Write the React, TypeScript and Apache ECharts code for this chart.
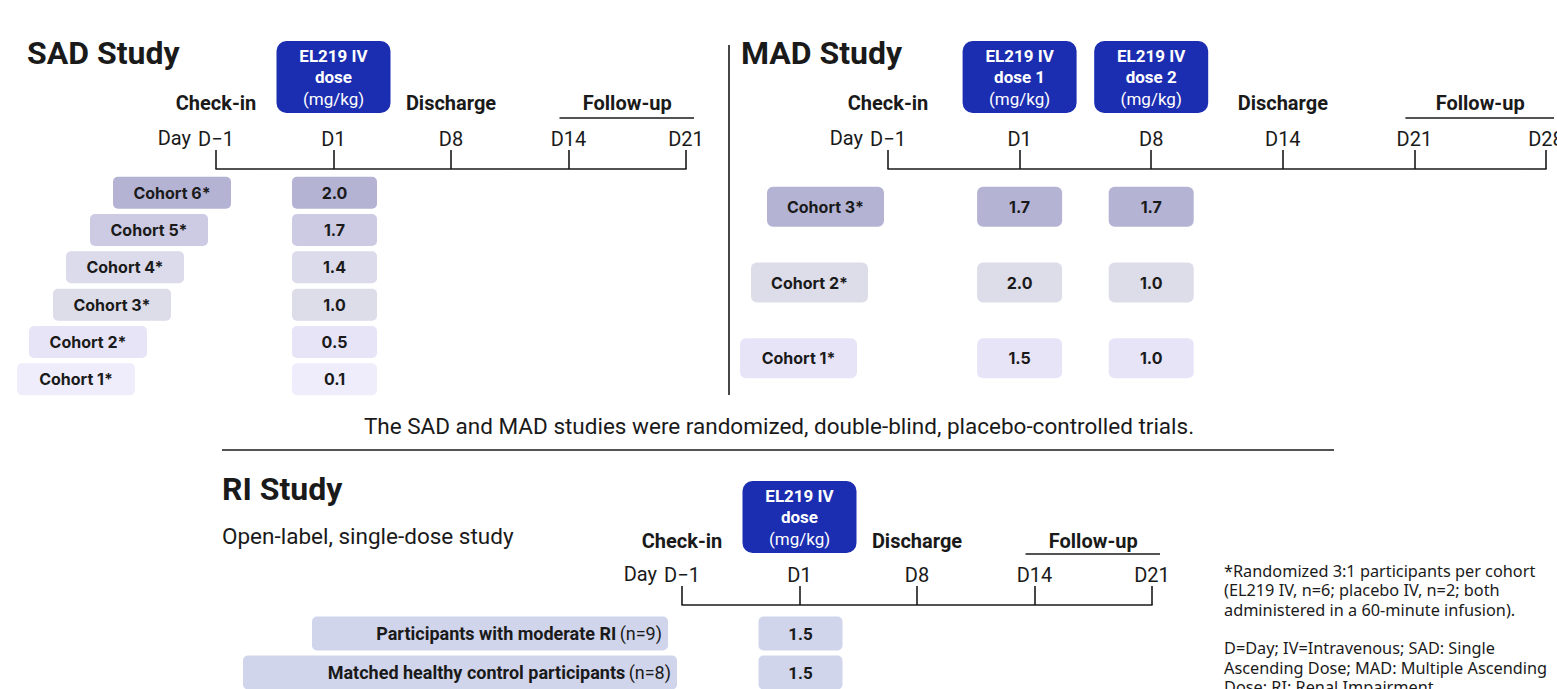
import React, { useEffect, useRef } from 'react';
import * as echarts from 'echarts';

// ---------- data ----------
const sadDays = ['D−1', 'D1', 'D8', 'D14', 'D21'];
const madDays = ['D−1', 'D1', 'D8', 'D14', 'D21', 'D28'];
const riDays = ['D−1', 'D1', 'D8', 'D14', 'D21'];

const sadCohorts = ['Cohort 6*', 'Cohort 5*', 'Cohort 4*', 'Cohort 3*', 'Cohort 2*', 'Cohort 1*'];
const sadDoses = [2.0, 1.7, 1.4, 1.0, 0.5, 0.1];

const madCohorts = ['Cohort 3*', 'Cohort 2*', 'Cohort 1*'];
const madDose1 = [1.7, 2.0, 1.5];
const madDose2 = [1.7, 1.0, 1.0];

const riGroups = ['Participants with moderate RI', 'Matched healthy control participants'];
const riN = [9, 8];
const riDoses = [1.5, 1.5];

const sadDoseDay = 'D1';
const madDoseDays = ['D1', 'D8'];
const riDoseDay = 'D1';

const phaseLabels = ['Check-in', 'Discharge', 'Follow-up'];
const sadPhaseDays = ['D−1', 'D8', 'D14', 'D21'];
const madPhaseDays = ['D−1', 'D14', 'D21', 'D28'];
const riPhaseDays = ['D−1', 'D8', 'D14', 'D21'];

const sadHeaders = [['EL219 IV', 'dose', '(mg/kg)']];
const madHeaders = [['EL219 IV', 'dose 1', '(mg/kg)'], ['EL219 IV', 'dose 2', '(mg/kg)']];
const riHeaders = [['EL219 IV', 'dose', '(mg/kg)']];

const footnoteLines = [
  '*Randomized 3:1 participants per cohort',
  '(EL219 IV, n=6; placebo IV, n=2; both',
  'administered in a 60-minute infusion).',
  '',
  'D=Day; IV=Intravenous; SAD: Single',
  'Ascending Dose; MAD: Multiple Ascending',
  'Dose; RI: Renal Impairment',
];

// ---------- styles / layout ----------
const INK = '#1a1a1a';
const BLUE = '#1b2db0';
const HEAD_FONT = 'Roboto, "Noto Sans", sans-serif';
const BOX_FONT = 'Inter, "Noto Sans", sans-serif';
const sadColors = ['#b4b3d4', '#cccbe3', '#dcdbeb', '#dddce9', '#e8e4f8', '#efedfb'];
const madColors = ['#b4b3d4', '#dddce9', '#e8e4f8'];
const riColor = '#d0d5eb';
const sadRightOffsets = [15, -8, -32, -45, -69, -81];
const madRightOffsets = [-4, -20, -31];
const riRightOffsets = [-14, -5];
const riWidths = [356, 434];

function axisPair(gi: number, days: string[], rows: string[], offset: number) {
  const x = {
    gridIndex: gi,
    type: 'category',
    data: days,
    position: 'top',
    offset,
    boundaryGap: false,
    axisLine: { show: true, lineStyle: { color: INK, width: 1.6 } },
    axisTick: { show: true, length: 19, interval: 0, lineStyle: { color: INK, width: 1.6 } },
    axisLabel: { interval: 0, margin: 20, fontSize: 20, fontFamily: HEAD_FONT, color: INK },
    splitLine: { show: false },
  };
  const y = { gridIndex: gi, type: 'category', data: rows, inverse: true, show: false };
  return { x, y };
}

function txt(x: number, y: number, text: string, font: string, align = 'center', fill = INK) {
  return {
    type: 'text',
    x,
    y,
    style: {
      text,
      font,
      fill,
      align,
      textAlign: align,
      verticalAlign: 'middle',
      textVerticalAlign: 'middle',
    },
  };
}

function boxSeries(
  gi: number,
  data: any[],
  draw: (i: number, p: number[], api: any) => any[]
) {
  return {
    type: 'custom',
    xAxisIndex: gi,
    yAxisIndex: gi,
    clip: false,
    silent: true,
    data,
    renderItem: (params: any, api: any) => {
      const p = api.coord([api.value(0), api.value(1)]);
      return { type: 'group', children: draw(params.dataIndex, p, api) };
    },
  };
}

function annotationSeries(
  gi: number,
  days: string[],
  row0: string,
  phaseDays: string[],
  headerDays: string[],
  headers: string[][],
  axisOffset: number,
  headerTop: number,
  phaseY: number
) {
  return {
    type: 'custom',
    xAxisIndex: gi,
    yAxisIndex: gi,
    clip: false,
    silent: true,
    data: [[days[0], row0]],
    renderItem: (params: any, api: any) => {
      const axisY = params.coordSys.y - axisOffset;
      const xOf = (d: string) => api.coord([days.indexOf(d), 0])[0];
      const kids: any[] = [];
      kids.push(txt(xOf(days[0]) - 25, axisY - 31, 'Day', `20px ${HEAD_FONT}`, 'right'));
      headerDays.forEach((d, k) => {
        const cx = xOf(d);
        const top = axisY - headerTop;
        kids.push({
          type: 'rect',
          shape: { x: cx - 57, y: top, width: 114, height: 72, r: 10 },
          style: { fill: BLUE },
        });
        kids.push(txt(cx, top + 15, headers[k][0], `bold 17px ${HEAD_FONT}`, 'center', '#ffffff'));
        kids.push(txt(cx, top + 36, headers[k][1], `bold 17px ${HEAD_FONT}`, 'center', '#ffffff'));
        kids.push(txt(cx, top + 58, headers[k][2], `17px ${HEAD_FONT}`, 'center', '#ffffff'));
      });
      const py = axisY - phaseY;
      kids.push(txt(xOf(phaseDays[0]), py, phaseLabels[0], `bold 20px ${HEAD_FONT}`));
      kids.push(txt(xOf(phaseDays[1]), py, phaseLabels[1], `bold 20px ${HEAD_FONT}`));
      const f1 = xOf(phaseDays[2]);
      const f2 = xOf(phaseDays[3]);
      kids.push(txt((f1 + f2) / 2, py, phaseLabels[2], `bold 20px ${HEAD_FONT}`));
      kids.push({
        type: 'line',
        shape: { x1: f1 - 9, y1: axisY - 51, x2: f2 + 8, y2: axisY - 51 },
        style: { stroke: INK, lineWidth: 1.6 },
      });
      return { type: 'group', children: kids };
    },
  };
}

export default function App() {
  const ref = useRef<HTMLDivElement>(null);

  useEffect(() => {
    document.body.style.margin = '0';
    if (!ref.current) return;
    const chart = echarts.init(ref.current, undefined, { renderer: 'svg' });

    const sad = axisPair(0, sadDays, sadCohorts, 5);
    const mad = axisPair(1, madDays, madCohorts, 0);
    const ri = axisPair(2, riDays, riGroups, 9);

    const series: any[] = [];

    series.push(
      boxSeries(0, sadCohorts.map((c) => [sadDays[0], c]), (i, p) => {
        const right = p[0] + sadRightOffsets[i];
        const w = 118;
        const h = 32;
        return [
          { type: 'rect', shape: { x: right - w, y: p[1] - h / 2, width: w, height: h, r: 5 }, style: { fill: sadColors[i] } },
          txt(right - w / 2, p[1], sadCohorts[i], `bold 16px ${BOX_FONT}`),
        ];
      })
    );
    series.push(
      boxSeries(0, sadDoses.map((d, i) => [sadDoseDay, sadCohorts[i], d]), (i, p, api) => {
        const w = 85;
        const h = 32;
        return [
          { type: 'rect', shape: { x: p[0] - w / 2 + 1, y: p[1] - h / 2, width: w, height: h, r: 5 }, style: { fill: sadColors[i] } },
          txt(p[0] + 1, p[1], Number(api.value(2)).toFixed(1), `bold 16px ${BOX_FONT}`),
        ];
      })
    );
    series.push(annotationSeries(0, sadDays, sadCohorts[0], sadPhaseDays, [sadDoseDay], sadHeaders, 5, 128, 66));

    series.push(
      boxSeries(1, madCohorts.map((c) => [madDays[0], c]), (i, p) => {
        const right = p[0] + madRightOffsets[i];
        const w = 117;
        const h = 40;
        return [
          { type: 'rect', shape: { x: right - w, y: p[1] - h / 2, width: w, height: h, r: 6 }, style: { fill: madColors[i] } },
          txt(right - w / 2, p[1], madCohorts[i], `bold 16px ${BOX_FONT}`),
        ];
      })
    );
    [madDose1, madDose2].forEach((arr, k) => {
      series.push(
        boxSeries(1, arr.map((d, i) => [madDoseDays[k], madCohorts[i], d]), (i, p, api) => {
          const w = 85;
          const h = 40;
          return [
            { type: 'rect', shape: { x: p[0] - w / 2, y: p[1] - h / 2, width: w, height: h, r: 6 }, style: { fill: madColors[i] } },
            txt(p[0], p[1], Number(api.value(2)).toFixed(1), `bold 16px ${BOX_FONT}`),
          ];
        })
      );
    });
    series.push(annotationSeries(1, madDays, madCohorts[0], madPhaseDays, madDoseDays, madHeaders, 0, 128, 66));

    series.push(
      boxSeries(2, riGroups.map((g) => [riDays[0], g]), (i, p) => {
        const right = p[0] + riRightOffsets[i];
        const w = riWidths[i];
        const h = 34;
        return [
          { type: 'rect', shape: { x: right - w, y: p[1] - h / 2, width: w, height: h, r: 5 }, style: { fill: riColor } },
          {
            type: 'text',
            x: right - 6,
            y: p[1],
            style: {
              text: `{b|${riGroups[i]}} {r|(n=${riN[i]})}`,
              align: 'right',
              textAlign: 'right',
              verticalAlign: 'middle',
              textVerticalAlign: 'middle',
              fill: INK,
              rich: {
                b: { font: `bold 18px ${HEAD_FONT}`, fill: INK, color: INK },
                r: { font: `18px ${HEAD_FONT}`, fill: INK, color: INK },
              },
            },
          },
        ];
      })
    );
    series.push(
      boxSeries(2, riDoses.map((d, i) => [riDoseDay, riGroups[i], d]), (i, p, api) => {
        const w = 84;
        const h = 34;
        return [
          { type: 'rect', shape: { x: p[0] - w / 2 + 1, y: p[1] - h / 2, width: w, height: h, r: 5 }, style: { fill: riColor } },
          txt(p[0] + 1, p[1], Number(api.value(2)).toFixed(1), `bold 17px ${HEAD_FONT}`),
        ];
      })
    );
    series.push(annotationSeries(2, riDays, riGroups[0], riPhaseDays, [riDoseDay], riHeaders, 9, 124, 64));

    const graphic: any[] = [
      txt(27, 53, 'SAD Study', `bold 32px ${HEAD_FONT}`, 'left'),
      txt(741, 53, 'MAD Study', `bold 32px ${HEAD_FONT}`, 'left'),
      txt(222, 489, 'RI Study', `bold 32px ${HEAD_FONT}`, 'left'),
      txt(222, 536, 'Open-label, single-dose study', `22.5px ${HEAD_FONT}`, 'left'),
      txt(779, 426, 'The SAD and MAD studies were randomized, double-blind, placebo-controlled trials.', `22.5px ${HEAD_FONT}`, 'center'),
      { type: 'line', shape: { x1: 729, y1: 45, x2: 729, y2: 395 }, style: { stroke: INK, lineWidth: 1.6 } },
      { type: 'line', shape: { x1: 222, y1: 450, x2: 1334, y2: 450 }, style: { stroke: INK, lineWidth: 1.6 } },
      {
        type: 'text',
        x: 1224,
        y: 561.5,
        style: {
          text: footnoteLines.join('\n'),
          font: `16.3px "Noto Sans", sans-serif`,
          lineHeight: 19.3,
          fill: INK,
          align: 'left',
          textAlign: 'left',
          verticalAlign: 'top',
          textVerticalAlign: 'top',
        },
      },
    ];

    chart.setOption({
      animation: false,
      backgroundColor: '#ffffff',
      grid: [
        { left: 216, top: 174, width: 470, height: 224, outerBoundsMode: 'none', containLabel: false },
        { left: 888, top: 169, width: 658, height: 227, outerBoundsMode: 'none', containLabel: false },
        { left: 682, top: 614, width: 470, height: 78, outerBoundsMode: 'none', containLabel: false },
      ],
      xAxis: [sad.x, mad.x, ri.x],
      yAxis: [sad.y, mad.y, ri.y],
      series,
      graphic,
    });

    return () => chart.dispose();
  }, []);

  return <div ref={ref} style={{ width: 1557, height: 689 }} />;
}
